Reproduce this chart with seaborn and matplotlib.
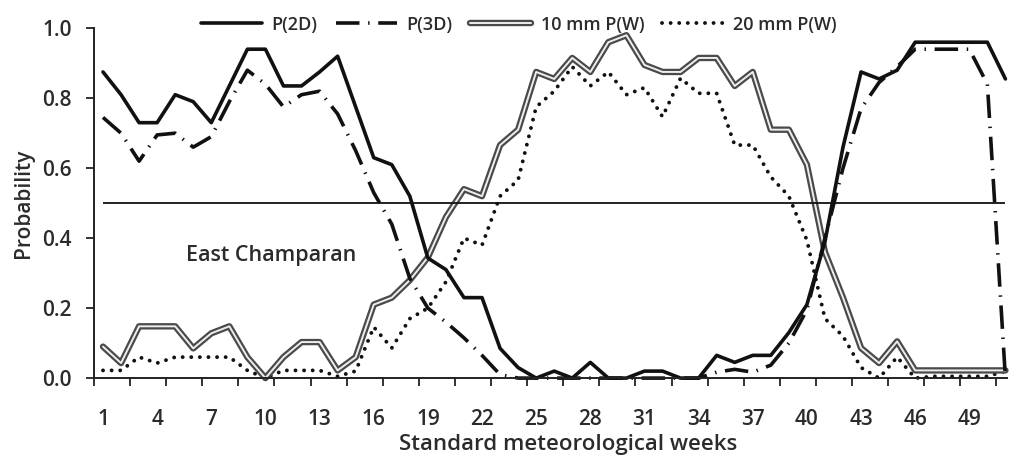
import numpy as np
import pandas as pd
import matplotlib
matplotlib.use("Agg")
import matplotlib.pyplot as plt
import matplotlib.patheffects as pe
import seaborn as sns

# Standard meteorological weeks
weeks = list(range(1, 52))

# Probability of 2 consecutive dry weeks
p2d = [0.875, 0.81, 0.73, 0.73, 0.81, 0.79, 0.73, 0.835, 0.94, 0.94,
       0.835, 0.835, 0.875, 0.92, 0.775, 0.63, 0.61, 0.52, 0.343, 0.31,
       0.23, 0.23, 0.085, 0.03, 0.0, 0.02, 0.0, 0.045, 0.0, 0.0,
       0.02, 0.02, 0.0, 0.0, 0.065, 0.045, 0.065, 0.065, 0.13, 0.21,
       0.39, 0.66, 0.875, 0.855, 0.88, 0.96, 0.96, 0.96, 0.96, 0.96,
       0.855]

# Probability of 3 consecutive dry weeks
p3d = [0.745, 0.70, 0.62, 0.695, 0.70, 0.66, 0.69, 0.79, 0.88, 0.84,
       0.775, 0.81, 0.82, 0.755, 0.65, 0.53, 0.44, 0.285, 0.20, 0.16,
       0.115, 0.065, 0.01, 0.0, 0.0, 0.0, 0.0, 0.0, 0.0, 0.0,
       0.0, 0.0, 0.0, 0.0, 0.017, 0.025, 0.017, 0.037, 0.10, 0.195,
       0.40, 0.60, 0.77, 0.845, 0.89, 0.94, 0.94, 0.94, 0.94, 0.84,
       0.0]

# Probability of a wet week with >= 10 mm
pw10 = [0.09, 0.043, 0.148, 0.148, 0.148, 0.085, 0.128, 0.148, 0.06, 0.0,
        0.06, 0.103, 0.103, 0.022, 0.06, 0.21, 0.23, 0.28, 0.345, 0.46,
        0.54, 0.52, 0.666, 0.71, 0.875, 0.855, 0.915, 0.875, 0.96, 0.98,
        0.895, 0.875, 0.875, 0.915, 0.915, 0.835, 0.875, 0.71, 0.71, 0.61,
        0.36, 0.23, 0.086, 0.043, 0.105, 0.022, 0.022, 0.022, 0.022, 0.022,
        0.022]

# Probability of a wet week with >= 20 mm
pw20 = [0.022, 0.022, 0.06, 0.043, 0.06, 0.06, 0.06, 0.06, 0.022, 0.0,
        0.022, 0.022, 0.022, 0.005, 0.02, 0.146, 0.086, 0.17, 0.20, 0.275,
        0.40, 0.38, 0.52, 0.566, 0.775, 0.82, 0.89, 0.835, 0.875, 0.81,
        0.83, 0.747, 0.857, 0.814, 0.814, 0.666, 0.666, 0.575, 0.52, 0.394,
        0.17, 0.12, 0.03, 0.0, 0.06, 0.0, 0.005, 0.005, 0.005, 0.005,
        0.02]

labels = ["P(2D)", "P(3D)", "10 mm P(W)", "20 mm P(W)"]
xtick_weeks = list(range(1, 50, 3))

df = pd.DataFrame({"week": weeks, "P(2D)": p2d, "P(3D)": p3d,
                   "10 mm P(W)": pw10, "20 mm P(W)": pw20})

sns.set_theme(style="white")
plt.rcParams["font.family"] = ["Open Sans", "DejaVu Sans"]
plt.rcParams["font.weight"] = "semibold"
plt.rcParams["axes.labelweight"] = "semibold"
text_col = "#2b2b2b"

fig = plt.figure(figsize=(10.17, 4.55), dpi=100)
ax = fig.add_axes([0.0924, 0.169, 0.898, 0.769])

# drawn back to front
sns.lineplot(data=df, x="week", y="20 mm P(W)", ax=ax, color="#111111",
             lw=2.8, ls=(0, (0.01, 2.2)), dash_capstyle="round",
             label=labels[3], clip_on=False)
sns.lineplot(data=df, x="week", y="10 mm P(W)", ax=ax, color="#eeeeee",
             lw=1.4, label=labels[2], clip_on=False,
             path_effects=[pe.Stroke(linewidth=4.6, foreground="#4a4a4a"),
                           pe.Normal()])
sns.lineplot(data=df, x="week", y="P(3D)", ax=ax, color="#111111",
             lw=2.6, ls=(0, (6.5, 2.4, 0.4, 2.4)), label=labels[1],
             clip_on=False)
sns.lineplot(data=df, x="week", y="P(2D)", ax=ax, color="#111111",
             lw=2.6, label=labels[0], clip_on=False)

ax.hlines(0.5, weeks[0], weeks[-1], color="#111111", lw=1.3)

ax.set_xlim(0.5, 51.1)
ax.set_ylim(0, 1.0)
ax.set_yticks(np.arange(0, 1.01, 0.2))
ax.set_yticklabels([f"{v:.1f}" for v in np.arange(0, 1.01, 0.2)])
ax.set_xticks(xtick_weeks)
ax.set_xticks(np.arange(0.5, 51, 2), minor=True)
ax.tick_params(axis="y", which="major", length=6, width=1.3, color="#222222",
               direction="out", left=True, pad=10, labelsize=15,
               labelcolor=text_col)
ax.tick_params(axis="x", which="major", length=0, pad=22.5, labelsize=15,
               labelcolor=text_col)
ax.tick_params(axis="x", which="minor", length=6, width=1.3,
               color="#222222", direction="out", bottom=True)

for s in ["top", "right"]:
    ax.spines[s].set_visible(False)
for s in ["left", "bottom"]:
    ax.spines[s].set_color("#222222")
    ax.spines[s].set_linewidth(1.4)

ax.set_ylabel("Probability", fontsize=15, color=text_col, labelpad=6)
ax.set_xlabel("Standard meteorological weeks", fontsize=16, color=text_col)
ax.xaxis.set_label_coords(0.519, -0.16)

ax.text(5.6, 0.35, "East Champaran", fontsize=15.5, color=text_col,
        ha="left", va="center")

handles, labs = ax.get_legend_handles_labels()
order = [labs.index(l) for l in labels]
ax.legend([handles[i] for i in order], labels, loc="center",
          bbox_to_anchor=(0.465, 1.01), ncol=4, frameon=False, fontsize=13,
          handlelength=3.4, handletextpad=0.5, columnspacing=1.0,
          labelcolor=text_col)

fig.savefig("out.png", dpi=100)
